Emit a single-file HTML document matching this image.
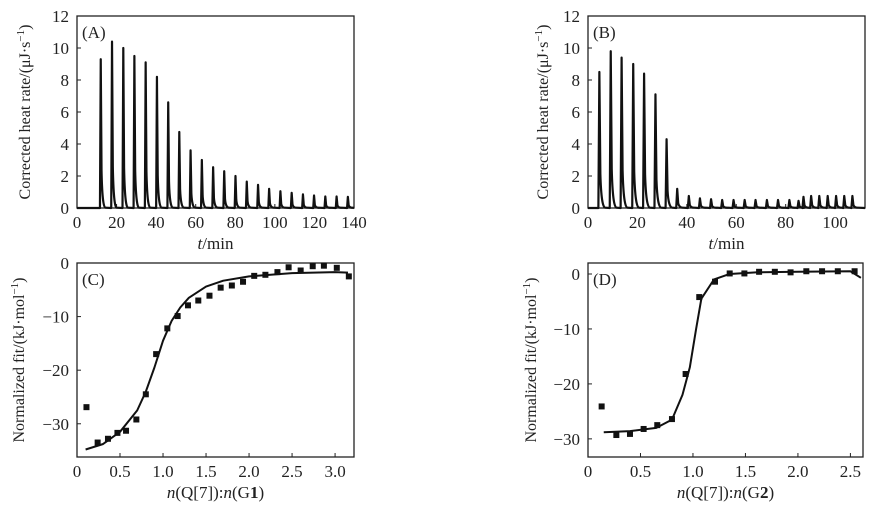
<!DOCTYPE html>
<html><head><meta charset="utf-8"><style>
body{margin:0;background:#fff}
svg{display:block;font-family:"Liberation Serif",serif;}
text{fill:#222}
</style></head><body>
<svg id="s" width="874" height="511" xmlns="http://www.w3.org/2000/svg"></svg>
<script>
// Panel A data
const aTimes=[12,17.7,23.4,29.0,34.7,40.4,46.1,51.7,57.4,63.1,68.8,74.4,80.1,85.8,91.5,97.1,102.8,108.5,114.2,119.8,125.5,131.2,136.9];
const aHeights=[9.3,10.4,10.0,9.5,9.1,8.2,6.6,4.75,3.6,3.0,2.55,2.3,2.0,1.65,1.45,1.2,1.05,0.95,0.85,0.78,0.72,0.72,0.7];
// Panel B data
const bTimes=[4.6,9.2,13.6,18.3,22.7,27.3,31.8,36.1,40.8,45.3,49.8,54.3,58.9,63.4,67.8,72.4,76.9,81.5,85.2,87.2,90.3,93.6,97.0,100.4,103.7,107.0];
const bHeights=[8.5,9.8,9.4,9.0,8.4,7.1,4.3,1.2,0.75,0.6,0.55,0.5,0.5,0.5,0.5,0.5,0.5,0.5,0.45,0.7,0.75,0.75,0.75,0.75,0.75,0.75];
// Panel C data
const cX=[0.11,0.24,0.36,0.47,0.57,0.69,0.80,0.92,1.05,1.17,1.29,1.41,1.54,1.67,1.80,1.93,2.06,2.19,2.33,2.46,2.60,2.74,2.87,3.02,3.16];
const cY=[-26.9,-33.5,-32.8,-31.7,-31.3,-29.2,-24.5,-17.0,-12.2,-9.9,-7.9,-7.0,-6.1,-4.6,-4.2,-3.5,-2.4,-2.2,-1.7,-0.8,-1.4,-0.6,-0.5,-0.9,-2.5];
const cFitX=[0.1,0.3,0.5,0.7,0.8,0.9,1.0,1.1,1.2,1.3,1.5,1.7,2.0,2.5,3.0,3.15];
const cFitY=[-34.8,-33.8,-31.5,-27.5,-24,-19.5,-14.5,-10.8,-8.3,-6.5,-4.4,-3.3,-2.5,-1.9,-1.7,-1.8];
// Panel D data
const dX=[0.13,0.27,0.40,0.53,0.66,0.80,0.93,1.06,1.21,1.35,1.49,1.63,1.78,1.93,2.08,2.23,2.38,2.54];
const dY=[-24.1,-29.3,-29.1,-28.2,-27.5,-26.4,-18.2,-4.2,-1.4,0.1,0.1,0.4,0.4,0.3,0.5,0.5,0.5,0.5];
const dFitX=[0.15,0.4,0.65,0.8,0.9,0.97,1.03,1.08,1.2,1.35,1.6,2.0,2.5,2.6];
const dFitY=[-28.8,-28.6,-28,-26.5,-22,-17,-10,-4.5,-1,0,0.3,0.4,0.5,-0.7];

const svg=document.getElementById('s');
const NS='http://www.w3.org/2000/svg';
function mk(tag,attrs,parent){const e=document.createElementNS(NS,tag);for(const k in attrs)e.setAttribute(k,attrs[k]);(parent||svg).appendChild(e);return e;}
function lin(d0,d1,r0,r1){return v=>r0+(v-d0)*(r1-r0)/(d1-d0);}

function panel(id,box,xd,yd,xticks,yticks,label,ytitle,xtitleHTML){
  const g=mk('g',{});
  
  
  const sx=lin(xd[0],xd[1],box.x0,box.x1), sy=lin(yd[0],yd[1],box.y1,box.y0);
  const fr=mk('rect',{x:box.x0,y:box.y0,width:box.x1-box.x0,height:box.y1-box.y0,fill:'none',stroke:'#222','stroke-width':1.3},g);
  
  
  xticks.forEach(t=>{
    const tx=mk('text',{x:sx(t.v),y:box.y1+20,'text-anchor':'middle','font-size':17},g);tx.textContent=t.l;
    
    
    mk('line',{x1:sx(t.v),x2:sx(t.v),y1:box.y1,y2:box.y1-4,stroke:'#222'},g);
  });
  yticks.forEach(t=>{
    const ty=mk('text',{x:box.x0-8,y:sy(t.v)+6,'text-anchor':'end','font-size':17},g);ty.textContent=t.l;
    
    
    mk('line',{x1:box.x0,x2:box.x0+4,y1:sy(t.v),y2:sy(t.v),stroke:'#222'},g);
  });
  const lb=mk('text',{x:box.x0+5,y:box.y0+22,'font-size':17},g);lb.textContent=label;
  
  
  const cy=(box.y0+box.y1)/2, tx=box.tx;
  const yt=mk('text',{x:tx,y:cy,'text-anchor':'middle','font-size':16,transform:`rotate(-90 ${tx} ${cy})`},g);
  yt.innerHTML=ytitle;
  
  
  const xt=mk('text',{x:(box.x0+box.x1)/2,y:box.y1+41,'text-anchor':'middle','font-size':17},g);
  xt.innerHTML=xtitleHTML;
  
  
  return {g,sx,sy};
}
function peaks(p,times,heights,xmin,xmax,id){
  let d=`M${p.sx(xmin)},${p.sy(0)}`;
  times.forEach((t,i)=>{
    const h=heights[i];
    d+=` L${p.sx(t-0.4)},${p.sy(0)} L${p.sx(t)},${p.sy(h)} L${p.sx(t+0.4)},${p.sy(h*0.25)}`;
    d+=` Q${p.sx(t+0.8)},${p.sy(0)} ${p.sx(t+2.4)},${p.sy(0.02)}`;
  });
  d+=` L${p.sx(xmax)},${p.sy(0)}`;
  const path=mk('path',{d,fill:'none',stroke:'#111','stroke-width':2.2,'stroke-linejoin':'round'},p.g);
  
  
}
function scatterFit(p,xs,ys,fx,fy,id){
  const d=fx.map((x,i)=>(i?'L':'M')+p.sx(x)+','+p.sy(fy[i])).join(' ');
  const path=mk('path',{d,fill:'none',stroke:'#111','stroke-width':2,'stroke-linejoin':'round'},p.g);
  
  
  xs.forEach((x,i)=>{
    const r=mk('rect',{x:p.sx(x)-3,y:p.sy(ys[i])-3,width:6,height:6,fill:'#111'},p.g);
    
    
  });
}
const hrTitle='Corrected heat rate/(μJ·s<tspan dy="-6" font-size="11">−1</tspan><tspan dy="6">)</tspan>';
const nfTitle='Normalized fit/(kJ·mol<tspan dy="-6" font-size="11">−1</tspan><tspan dy="6">)</tspan>';
const yA=[0,2,4,6,8,10,12].map(v=>({v,l:String(v)}));
const pA=panel('a',{x0:77,x1:354,y0:16,y1:208,tx:30},[0,140],[0,12],[0,20,40,60,80,100,120,140].map(v=>({v,l:String(v)})),yA,'(A)',hrTitle,'<tspan font-style="italic">t</tspan>/min');
peaks(pA,aTimes,aHeights,0,140,'a');
const pB=panel('b',{x0:588,x1:865,y0:16,y1:208,tx:548},[0,112.1],[0,12],[0,20,40,60,80,100].map(v=>({v,l:String(v)})),yA,'(B)',hrTitle,'<tspan font-style="italic">t</tspan>/min');
peaks(pB,bTimes,bHeights,0,112.1,'b');
const pC=panel('c',{x0:77,x1:354,y0:263,y1:457,tx:24},[0,3.22],[-36.2,0],[0,0.5,1.0,1.5,2.0,2.5,3.0].map(v=>({v,l:v===0?'0':v.toFixed(1)})),[0,-10,-20,-30].map(v=>({v,l:v===0?'0':'−'+(-v)})),'(C)',nfTitle,'<tspan font-style="italic">n</tspan>(Q[7]):<tspan font-style="italic">n</tspan>(G<tspan font-weight="bold">1</tspan>)');
scatterFit(pC,cX,cY,cFitX,cFitY,'c');
const pD=panel('d',{x0:588,x1:863,y0:263,y1:457,tx:536},[0,2.62],[-33.3,2],[0,0.5,1.0,1.5,2.0,2.5].map(v=>({v,l:v===0?'0':v.toFixed(1)})),[0,-10,-20,-30].map(v=>({v,l:v===0?'0':'−'+(-v)})),'(D)',nfTitle,'<tspan font-style="italic">n</tspan>(Q[7]):<tspan font-style="italic">n</tspan>(G<tspan font-weight="bold">2</tspan>)');
scatterFit(pD,dX,dY,dFitX,dFitY,'d');
</script>
</body></html>
